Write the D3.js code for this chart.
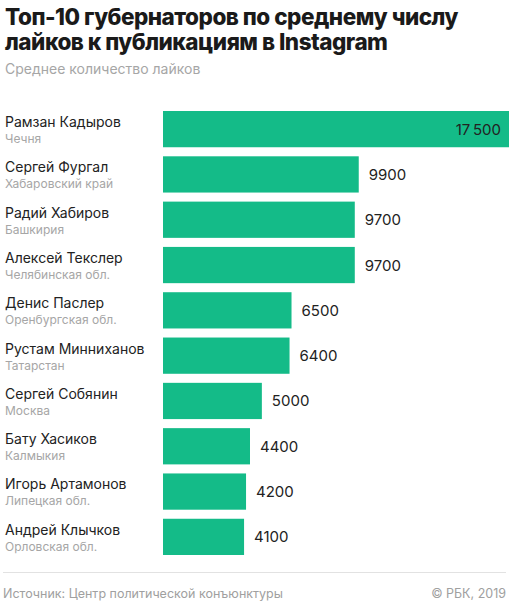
<!DOCTYPE html>
<html>
<head>
<meta charset="utf-8">
<script src="https://cdn.jsdelivr.net/npm/d3@7"></script>
<style>
  body { margin: 0; background: #fff; }
  svg { font-family: Inter, "Noto Sans", sans-serif; }
</style>
</head>
<body>
<div id="chart"></div>
<script>
// data
const names = ["Рамзан Кадыров", "Сергей Фургал", "Радий Хабиров", "Алексей Текслер", "Денис Паслер",
  "Рустам Минниханов", "Сергей Собянин", "Бату Хасиков", "Игорь Артамонов", "Андрей Клычков"];
const regions = ["Чечня", "Хабаровский край", "Башкирия", "Челябинская обл.", "Оренбургская обл.",
  "Татарстан", "Москва", "Калмыкия", "Липецкая обл.", "Орловская обл."];
const likes = [17500, 9900, 9700, 9700, 6500, 6400, 5000, 4400, 4200, 4100];

const width = 509, height = 605;
const svg = d3.select("#chart").append("svg")
  .attr("width", width)
  .attr("height", height);

// title block
const title = svg.append("text")
  .attr("x", 5)
  .attr("font-size", 22.5)
  .attr("font-weight", 800)
  .attr("fill", "#1a1a1a")
  .attr("letter-spacing", "-0.5");
title.append("tspan").attr("x", 5).attr("y", 25).text("Топ-10 губернаторов по среднему числу");
title.append("tspan").attr("x", 5).attr("y", 50).text("лайков к публикациям в Instagram");

svg.append("text")
  .attr("x", 5).attr("y", 74)
  .attr("font-size", 14)
  .attr("fill", "#a6a6a6")
  .text("Среднее количество лайков");

// scales
const x = d3.scaleLinear()
  .domain([0, 17500])
  .range([163, 509]);

const y = d3.scaleBand()
  .domain(d3.range(names.length))
  .range([111, 555])
  .paddingInner(0.2)
  .paddingOuter(0);

const rows = svg.selectAll("g.row")
  .data(likes)
  .join("g")
  .attr("class", "row");

rows.append("rect")
  .attr("x", x(0))
  .attr("y", (d, i) => y(i))
  .attr("width", d => x(d) - x(0))
  .attr("height", y.bandwidth())
  .attr("fill", "#14bb88");

// names and regions
rows.append("text")
  .attr("x", 5)
  .attr("y", (d, i) => y(i) + 16)
  .attr("font-size", 14)
  .attr("fill", "#222")
  .text((d, i) => names[i]);

rows.append("text")
  .attr("x", 5)
  .attr("y", (d, i) => y(i) + 32)
  .attr("font-size", 12)
  .attr("fill", "#a6a6a6")
  .text((d, i) => regions[i]);

// value labels: inside the bar if it reaches the edge
const fmt = v => v >= 10000 ? d3.format(",")(v).replace(",", "\u2009") : String(v);
rows.append("text")
  .attr("x", d => d === d3.max(likes) ? x(d) - 8 : x(d) + 10)
  .attr("y", (d, i) => y(i) + y.bandwidth() / 2 + 5.5)
  .attr("text-anchor", d => d === d3.max(likes) ? "end" : "start")
  .attr("font-size", 15)
  .attr("fill", "#222")
  .text(fmt);

// footer
svg.append("line")
  .attr("x1", 3).attr("x2", 506)
  .attr("y1", 572.5).attr("y2", 572.5)
  .attr("stroke", "#e2e2e2");

svg.append("text")
  .attr("x", 3).attr("y", 598)
  .attr("font-size", 12.5)
  .attr("fill", "#a0a0a0")
  .text("Источник: Центр политической конъюнктуры");

svg.append("text")
  .attr("x", 506).attr("y", 598)
  .attr("text-anchor", "end")
  .attr("font-size", 12.5)
  .attr("fill", "#a0a0a0")
  .text("© РБК, 2019");
</script>
</body>
</html>
